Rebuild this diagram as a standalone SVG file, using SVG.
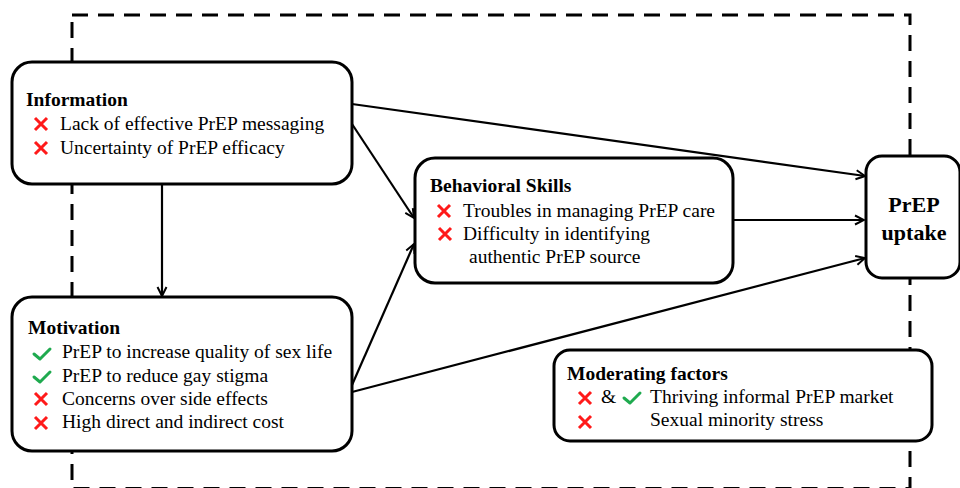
<svg xmlns="http://www.w3.org/2000/svg" width="960" height="488" viewBox="0 0 960 488">
  <style>
    .box { fill: #ffffff; stroke: #000000; stroke-width: 3; }
    .frame { fill: none; stroke: #000000; stroke-width: 3; stroke-dasharray: 16 10; }
    .edge { fill: none; stroke: #000000; stroke-width: 2.2; marker-end: url(#arrow); }
    text { font-family: "Liberation Serif", "Times New Roman", serif; font-size: 19.5px; fill: #000000; }
    .title { font-weight: bold; }
    .big { font-weight: bold; font-size: 22px; text-anchor: middle; }
    .no { stroke: #ff1a1a; stroke-width: 3; fill: none; }
    .yes { stroke: #1faa4f; stroke-width: 3; fill: none; stroke-linecap: round; stroke-linejoin: round; }
  </style>
  <defs>
    <marker id="arrow" viewBox="0 0 12 12" refX="11" refY="6" markerWidth="12" markerHeight="12" markerUnits="userSpaceOnUse" orient="auto">
      <polyline points="2,1.5 11,6 2,10.5" fill="none" stroke="#000000" stroke-width="2"/>
    </marker>
    <g id="cross">
      <path class="no" d="M-6,-6 L6,6 M6,-6 L-6,6"/>
    </g>
    <g id="tick">
      <path class="yes" d="M-8,0 L-2,5 L8,-5"/>
    </g>
  </defs>

  <!-- dashed boundary around the model (bottom edge sits at the canvas border) -->
  <rect class="frame" x="72" y="15" width="838" height="473.5"/>

  <!-- connectors -->
  <g id="edges">
    <line class="edge" x1="352" y1="104" x2="865" y2="176"/>
    <line class="edge" x1="352" y1="124" x2="414" y2="218"/>
    <line class="edge" x1="162" y1="184" x2="162" y2="296"/>
    <line class="edge" x1="352" y1="385" x2="414" y2="244"/>
    <line class="edge" x1="352" y1="392" x2="865" y2="258"/>
    <line class="edge" x1="733" y1="220" x2="864" y2="220"/>
  </g>

  <g id="information">
    <rect class="box" x="12" y="62" width="340" height="122" rx="20"/>
    <text class="title" x="26" y="106">Information</text>
    <use href="#cross" x="41" y="124"/>
    <text x="60" y="130">Lack of effective PrEP messaging</text>
    <use href="#cross" x="41" y="148"/>
    <text x="60" y="154">Uncertainty of PrEP efficacy</text>
  </g>

  <g id="motivation">
    <rect class="box" x="12" y="297" width="340" height="154" rx="20"/>
    <text class="title" x="28" y="334">Motivation</text>
    <use href="#tick" x="42" y="354"/>
    <text x="62" y="358">PrEP to increase quality of sex life</text>
    <use href="#tick" x="42" y="377"/>
    <text x="62" y="382">PrEP to reduce gay stigma</text>
    <use href="#cross" x="41" y="399"/>
    <text x="62" y="405">Concerns over side effects</text>
    <use href="#cross" x="41" y="423"/>
    <text x="62" y="428">High direct and indirect cost</text>
  </g>

  <g id="behavioral-skills">
    <rect class="box" x="415" y="158" width="318" height="125" rx="20"/>
    <text class="title" x="430" y="192">Behavioral Skills</text>
    <use href="#cross" x="444" y="211"/>
    <text x="463" y="217">Troubles in managing PrEP care</text>
    <use href="#cross" x="445" y="234"/>
    <text x="463" y="240">Difficulty in identifying</text>
    <text x="469" y="263">authentic PrEP source</text>
  </g>

  <g id="prep-uptake">
    <rect class="box" x="866" y="156" width="94" height="122" rx="16"/>
    <text class="big" x="914" y="212">PrEP</text>
    <text class="big" x="914" y="240">uptake</text>
  </g>

  <g id="moderating-factors">
    <rect class="box" x="554" y="350" width="378" height="91" rx="16"/>
    <text class="title" x="567" y="380">Moderating factors</text>
    <use href="#cross" x="585" y="398"/>
    <text x="601" y="403">&amp;</text>
    <use href="#tick" x="632" y="398"/>
    <text x="650" y="403">Thriving informal PrEP market</text>
    <use href="#cross" x="585" y="422"/>
    <text x="650" y="426">Sexual minority stress</text>
  </g>
</svg>
